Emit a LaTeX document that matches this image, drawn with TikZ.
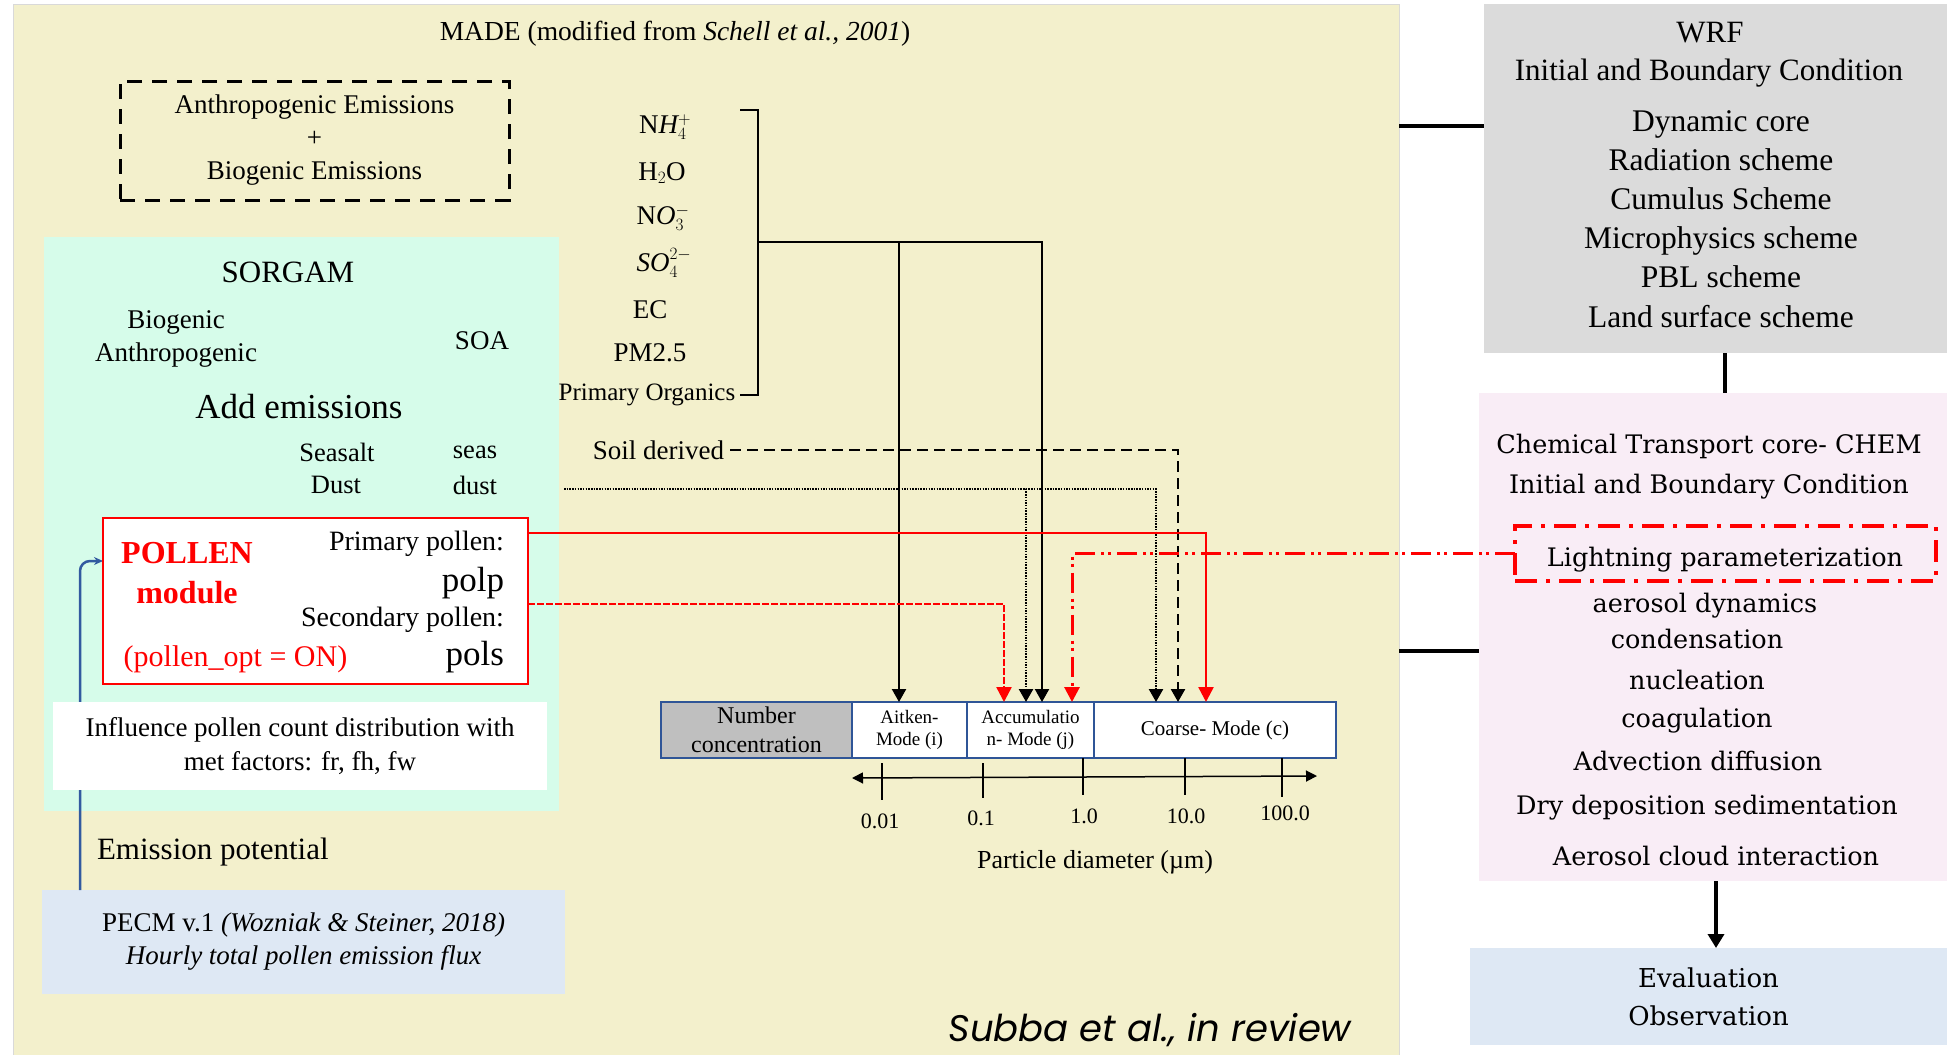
\documentclass[tikz,border=0pt]{standalone}
\usepackage{fontspec}
\setmainfont{Liberation Serif}
\newfontfamily\chemfont{DejaVu Serif}
\newfontfamily\citefont{Poppins}
\usetikzlibrary{arrows.meta}
\DeclareMathSizes{27}{27}{19}{14}
\definecolor{madeyellow}{RGB}{243,240,204}
\definecolor{mint}{RGB}{214,252,234}
\definecolor{paleblue}{RGB}{222,232,244}
\definecolor{wrfgray}{RGB}{219,219,219}
\definecolor{chempink}{RGB}{249,237,246}
\definecolor{modeblue}{RGB}{47,85,151}
\definecolor{numgray}{RGB}{191,191,191}
\definecolor{pred}{RGB}{255,0,0}
\definecolor{arrowblue}{RGB}{50,90,160}
\newcommand{\fsz}[2]{\fontsize{#1}{#2}\selectfont}
\begin{document}
\begin{tikzpicture}[x=1pt,y=-1pt,
  every node/.style={inner sep=0pt,outer sep=0pt},
  tx/.style={font=\fsz{27}{33}},
  wrftx/.style={font=\fsz{31.5}{36},anchor=base},
  chemtx/.style={font=\chemfont\fsz{25.5}{30},anchor=base},
  conn/.style={line width=2.2pt},
  btip/.style={-{Triangle[length=13pt,width=14pt]}},
  rtip/.style={-{Triangle[length=15pt,width=15pt]}},
  dotln/.style={line width=2.5pt,dash pattern=on 1.5pt off 1.2pt},
  dashln/.style={line width=2.5pt,dash pattern=on 11pt off 6pt},
  reddash/.style={draw=pred,line width=2.5pt,dash pattern=on 7pt off 2pt},
  redsolid/.style={draw=pred,line width=2.5pt},
  reddots/.style={draw=pred,line width=3pt,dash pattern=on 20pt off 6pt on 3pt off 4pt on 3pt off 6pt},
  modebox/.style={draw=modeblue,line width=2.5pt,fill=white,minimum height=56pt,align=center},
  thick connector/.style={line width=4pt}
]
\useasboundingbox (0,0) rectangle (1947,1055);
\fill[white] (0,0) rectangle (1947,1055);

% ---------------- MADE panel ----------------
\node[fill=madeyellow,draw=black!15,line width=1pt,minimum width=1386pt,minimum height=1056pt,anchor=north west] (made) at (13,4) {};
\node[font=\fsz{27.5}{33}] (title) at (675,34) {MADE (modified from \textit{Schell et al., 2001})};

\node[draw,line width=3pt,dash pattern=on 15pt off 10pt,minimum width=389pt,minimum height=119pt,tx,align=center] (emis) at (314.5,140.5) {Anthropogenic Emissions\\+\\Biogenic Emissions};

% SORGAM box
\node[fill=mint,minimum width=515pt,minimum height=574pt] (sorgam) at (301.5,524) {};
\node[font=\fsz{31}{36}] (sorgamt) at (288,272) {SORGAM};
\node[tx] (biog) at (176,322) {Biogenic};
\node[tx] (anth) at (176,355) {Anthropogenic};
\node[tx] (soa) at (482,341) {SOA};
\node[font=\fsz{35}{40}] (addem) at (299,407) {Add emissions};
\node[font=\fsz{26.5}{30}] (seasalt) at (337,452) {Seasalt};
\node[font=\fsz{26.5}{30}] (dust) at (336,485) {Dust};
\node[font=\fsz{26.5}{30}] (seas) at (475,452) {seas};
\node[font=\fsz{26.5}{30}] (dustv) at (475,485) {dust};

% PECM box
\node[fill=paleblue,minimum width=523pt,minimum height=104pt,tx,align=center] (pecm) at (303.5,942) {PECM v.1 \textit{(Wozniak \& Steiner, 2018)}\\\textit{Hourly total pollen emission flux}};
\node[font=\fsz{31}{36},anchor=west] (emipot) at (97,852) {Emission potential};

% blue arrow (passes behind the white box)
\draw[arrowblue,line width=2.5pt,rounded corners=10pt,-{Stealth[length=9pt,width=8pt]}] (80,0 |- pecm.north) |- (103,561);

% influence box
\node[fill=white,minimum width=494pt,minimum height=88pt,font=\fsz{27}{34},align=center] (infl) at (300,746) {Influence pollen count distribution with\\met factors: fr, fh, fw};

% pollen box
\node[draw=pred,line width=2.5pt,fill=white,minimum width=425pt,minimum height=166pt] (pollen) at (315.5,601) {};
\node[font=\bfseries\fsz{32}{36},text=pred] (pollent) at (187,553) {POLLEN};
\node[font=\bfseries\fsz{32}{36},text=pred] (modt) at (187,593) {module};
\node[font=\fsz{30}{34},text=pred] (popt) at (235.5,659) {(pollen\_opt = ON)};
\node[font=\fsz{28}{32},anchor=east] (prim) at (504,544) {Primary pollen:};
\node[font=\fsz{35}{40},anchor=east] (polp) at (504,583) {polp};
\node[font=\fsz{28}{32},anchor=east] (sec) at (504,620) {Secondary pollen:};
\node[font=\fsz{35}{40},anchor=east] (pols) at (504,657) {pols};

% species
\node[tx] (nh4) at (665,127) {N$\mathit{H}_4^+$};
\node[tx] (h2o) at (662,173) {H$_2$O};
\node[tx] (no3) at (663,218) {N$\mathit{O}_3^-$};
\node[tx] (so4) at (664,263) {$\mathit{SO}_4^{2-}$};
\node[tx] (ec) at (650,310) {EC};
\node[tx] (pm) at (650,353) {PM2.5};
\node[font=\fsz{25}{30}] (porg) at (647,395) {Primary Organics};
\node[tx,anchor=east] (soil) at (724,450) {Soil derived};
\draw[line width=2.5pt] (740,110) -- (758,110) -- (758,395) -- (porg.east -| 740,0);
\coordinate (brJ) at (758,242);
\coordinate (dustOut) at (564,489);

% mode boxes
\node[modebox,fill=numgray,minimum width=191pt,font=\fsz{24}{29}] (num) at (756.5,730) {Number\\concentration};
\node[modebox,minimum width=115pt,font=\fsz{19}{22}] (aitken) at (909.5,730) {Aitken-\\Mode (i)};
\node[modebox,minimum width=127pt,font=\fsz{19}{22}] (accum) at (1030.5,730) {Accumulatio\\n- Mode (j)};
\node[modebox,minimum width=242pt,font=\fsz{21}{24}] (coarse) at (1215,730) {Coarse- Mode (c)};

% axis
\coordinate (axL) at (852,778);
\coordinate (axR) at (1317,776);
\draw[line width=1.5pt,{Triangle[length=11pt,width=11pt]}-{Triangle[length=11pt,width=11pt]}] (axL) -- (axR);
\draw[line width=2pt] (882,763) -- (882,800);
\draw[line width=2pt] (983,763) -- (983,798);
\draw[line width=2pt] (1083,758) -- (1083,795);
\draw[line width=2pt] (1185,758) -- (1185,795);
\draw[line width=2pt] (1282,758) -- (1282,797);
\node[font=\fsz{22}{26}] (t1) at (880,821) {0.01};
\node[font=\fsz{22}{26}] (t2) at (981,818) {0.1};
\node[font=\fsz{22}{26}] (t3) at (1084,816) {1.0};
\node[font=\fsz{22}{26}] (t4) at (1186,816) {10.0};
\node[font=\fsz{22}{26}] (t5) at (1285,813) {100.0};
\node[font=\fsz{26}{30}] (pdia) at (1095,862) {Particle diameter (µm)};

% ---------------- right column ----------------
\node[fill=wrfgray,minimum width=463pt,minimum height=349pt] (wrf) at (1715.5,178.5) {};
\node[font=\fsz{31}{34},anchor=base] (wrft) at (1710,42) {WRF};
\node[font=\fsz{31}{34},anchor=base] (wrfibc) at (1709,80) {Initial and Boundary Condition};
\node[wrftx] (w1) at (1721,131.5) {Dynamic core};
\node[wrftx] (w2) at (1721,170.6) {Radiation scheme};
\node[wrftx] (w3) at (1721,209.7) {Cumulus Scheme};
\node[wrftx] (w4) at (1721,248.8) {Microphysics scheme};
\node[wrftx] (w5) at (1721,287.9) {PBL scheme};
\node[wrftx] (w6) at (1721,327) {Land surface scheme};

\node[fill=chempink,minimum width=468pt,minimum height=488pt] (chem) at (1713,637) {};
\node[chemtx] (c1) at (1709,453) {Chemical Transport core- CHEM};
\node[chemtx] (c2) at (1709,493) {Initial and Boundary Condition};
\node[draw=pred,line width=4.5pt,dash pattern=on 22pt off 9pt on 4pt off 9pt,minimum width=421pt,minimum height=55pt] (light) at (1725.5,553.5) {};
\node[chemtx] (lightt) at (1725,566) {Lightning parameterization};
\node[chemtx] (c3) at (1705,612) {aerosol dynamics};
\node[chemtx] (c4) at (1697,648.5) {condensation};
\node[chemtx] (c5) at (1697,689) {nucleation};
\node[chemtx] (c6) at (1697,727) {coagulation};
\node[chemtx] (c7) at (1698,770.5) {Advection diffusion};
\node[chemtx] (c8) at (1707,814) {Dry deposition sedimentation};
\node[chemtx] (c9) at (1716,865.5) {Aerosol cloud interaction};

\node[fill=paleblue,minimum width=477pt,minimum height=97pt,font=\chemfont\fsz{26}{38},align=center] (eval) at (1708.5,996.5) {Evaluation\\Observation};

\node[font=\citefont\itshape\fsz{37}{40}] (cite) at (1150,1030) {Subba et al., in review};

% ---------------- connectors ----------------
\draw[conn,btip] (brJ) -| (899,0 |- aitken.north);
\draw[conn,btip] (brJ) -| (1042,0 |- accum.north);
\draw[dashln,btip] (soil.east -| 730,0) -| (1178,0 |- coarse.north);
\draw[dotln,btip] (dustOut) -| (1026,0 |- accum.north);
\draw[dotln,btip] (dustOut) -| (1156,0 |- coarse.north);
\draw[redsolid,rtip] (pollen.east |- 0,533) -| (1206,0 |- coarse.north);
\draw[reddash,rtip] (pollen.east |- 0,604) -| (1004,0 |- accum.north);
\draw[reddots,rtip] (light.west) -| (1072,0 |- accum.north);

\draw[thick connector] (made.east |- 0,126) -- (wrf.west |- 0,126);
\draw[thick connector] (1725,0 |- wrf.south) -- (1725,0 |- chem.north);
\draw[thick connector] (made.east |- 0,651) -- (chem.west |- 0,651);
\draw[thick connector,-{Triangle[length=14pt,width=16pt]}] (1716,0 |- chem.south) -- (1716,0 |- eval.north);
\end{tikzpicture}
\end{document}
